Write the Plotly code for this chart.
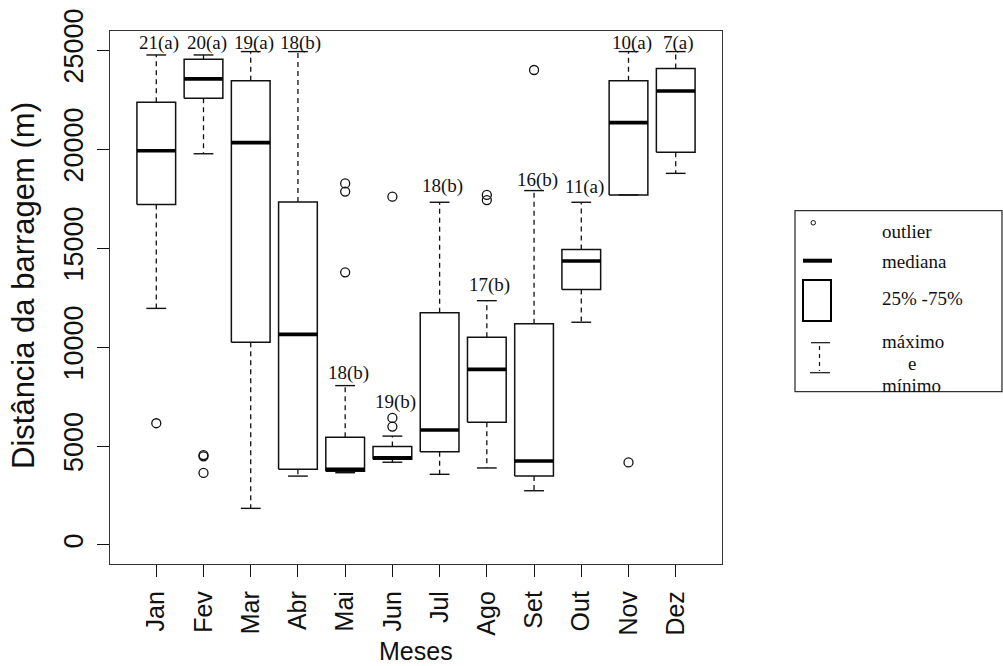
import plotly.graph_objects as go

# ---------------- data ----------------
months = ["Jan", "Fev", "Mar", "Abr", "Mai", "Jun", "Jul", "Ago", "Set", "Out", "Nov", "Dez"]
upper = [24750, 24750, 24920, 24920, 8050, 5500, 17310, 12340, 17900, 17310, 24920, 24920]
q3 = [22360, 24530, 23450, 17320, 5440, 4970, 11730, 10490, 11180, 14930, 23450, 24070]
median = [19910, 23540, 20320, 10640, 3820, 4400, 5810, 8870, 4240, 14340, 21330, 22930]
q1 = [17200, 22560, 10240, 3820, 3720, 4330, 4710, 6200, 3480, 12910, 17680, 19830]
lower = [11950, 19760, 1850, 3480, 3650, 4180, 3570, 3890, 2740, 11250, 17680, 18770]
outliers = [
    [6150],
    [4480, 4540, 3640],
    [],
    [],
    [18260, 17850, 13770],
    [17590, 6420, 5980],
    [],
    [17680, 17420],
    [23990],
    [],
    [4170],
    [],
]
group_labels = ["21(a)", "20(a)", "19(a)", "18(b)", "18(b)", "19(b)",
                "18(b)", "17(b)", "16(b)", "11(a)", "10(a)", "7(a)"]
label_y = [25350, 25350, 25350, 25350, 8700, 7200, 18130, 13130, 18460, 18060, 25350, 25350]

y_ticks = [0, 5000, 10000, 15000, 20000, 25000]

# ---------------- figure geometry ----------------
W, H = 1003, 666
def px(x):
    return x / W
def py(y):
    return 1 - y / H

BOX_HALF = 0.41
CAP_HALF = 0.21
SANS = "Liberation Sans, Arial, sans-serif"
SERIF = "Liberation Serif, Times New Roman, serif"
INK = "#111111"

fig = go.Figure()

box_x, box_y = [], []
med_x, med_y = [], []
wh_x, wh_y = [], []
cap_x, cap_y = [], []
out_x, out_y = [], []
for i in range(len(months)):
    box_x += [i - BOX_HALF, i + BOX_HALF, i + BOX_HALF, i - BOX_HALF, i - BOX_HALF, None]
    box_y += [q1[i], q1[i], q3[i], q3[i], q1[i], None]
    med_x += [i - BOX_HALF, i + BOX_HALF, None]
    med_y += [median[i], median[i], None]
    wh_x += [i, i, None, i, i, None]
    wh_y += [q3[i], upper[i], None, q1[i], lower[i], None]
    cap_x += [i - CAP_HALF, i + CAP_HALF, None, i - CAP_HALF, i + CAP_HALF, None]
    cap_y += [upper[i], upper[i], None, lower[i], lower[i], None]
    for v in outliers[i]:
        out_x.append(i)
        out_y.append(v)

fig.add_trace(go.Scatter(x=wh_x, y=wh_y, mode="lines",
                         line=dict(color=INK, width=1.3, dash="5px,4px"),
                         hoverinfo="skip", showlegend=False))
fig.add_trace(go.Scatter(x=cap_x, y=cap_y, mode="lines",
                         line=dict(color=INK, width=1.4),
                         hoverinfo="skip", showlegend=False))
fig.add_trace(go.Scatter(x=box_x, y=box_y, mode="lines", fill="none",
                         line=dict(color=INK, width=1.5),
                         hoverinfo="skip", showlegend=False))
fig.add_trace(go.Scatter(x=med_x, y=med_y, mode="lines",
                         line=dict(color="#000000", width=3.6),
                         hoverinfo="skip", showlegend=False))
fig.add_trace(go.Scatter(x=out_x, y=out_y, mode="markers",
                         marker=dict(symbol="circle-open", size=9,
                                     color=INK, line=dict(width=1.3)),
                         hoverinfo="skip", showlegend=False))

annotations = []
for i, (lab, ly) in enumerate(zip(group_labels, label_y)):
    annotations.append(dict(x=i, y=ly, xref="x", yref="y", text=lab,
                            showarrow=False, xshift=3,
                            font=dict(family=SERIF, size=19, color=INK),
                            xanchor="center", yanchor="middle"))

# axis titles
annotations.append(dict(x=px(416), y=py(651), xref="paper", yref="paper",
                        text="Meses", showarrow=False,
                        font=dict(family=SANS, size=25, color=INK),
                        xanchor="center", yanchor="middle"))
annotations.append(dict(x=px(23), y=py(286), xref="paper", yref="paper",
                        text="Distância da barragem (m)", showarrow=False, textangle=-90,
                        font=dict(family=SANS, size=31, color=INK),
                        xanchor="center", yanchor="middle"))

# ---------------- key box (drawn legend) ----------------
shapes = [
    dict(type="rect", xref="paper", yref="paper",
         x0=px(795), x1=px(1002), y0=py(391.7), y1=py(210.7),
         line=dict(color="#333333", width=1.3), fillcolor="rgba(0,0,0,0)"),
    dict(type="circle", xref="paper", yref="paper",
         x0=px(811), x1=px(815.5), y0=py(225), y1=py(220.5),
         line=dict(color=INK, width=1)),
    dict(type="line", xref="paper", yref="paper",
         x0=px(803), x1=px(832), y0=py(260.7), y1=py(260.7),
         line=dict(color="#000000", width=4)),
    dict(type="rect", xref="paper", yref="paper",
         x0=px(803), x1=px(831), y0=py(321), y1=py(280),
         line=dict(color="#000000", width=2)),
    dict(type="line", xref="paper", yref="paper",
         x0=px(811), x1=px(830), y0=py(342.7), y1=py(342.7),
         line=dict(color=INK, width=1.2)),
    dict(type="line", xref="paper", yref="paper",
         x0=px(819.5), x1=px(819.5), y0=py(346), y1=py(371),
         line=dict(color=INK, width=1.2, dash="4px,4px")),
    dict(type="line", xref="paper", yref="paper",
         x0=px(810), x1=px(830), y0=py(372.7), y1=py(372.7),
         line=dict(color=INK, width=1.2)),
]
key_texts = [("outlier", 880, 231, "left"), ("mediana", 880, 261, "left"),
             ("25% -75%", 880, 298.5, "left"), ("máximo", 880, 341.5, "left"),
             ("e", 912, 363.5, "center"), ("mínimo", 880, 385, "left")]
for t, x, y, anc in key_texts:
    annotations.append(dict(x=px(x), y=py(y), xref="paper", yref="paper", text=t,
                            showarrow=False, xanchor=anc, yanchor="middle",
                            font=dict(family=SERIF, size=19, color=INK)))

fig.update_layout(
    template="none",
    width=W, height=H,
    margin=dict(l=0, r=0, t=0, b=0, pad=0, autoexpand=False),
    paper_bgcolor="white", plot_bgcolor="white",
    showlegend=False,
    annotations=annotations,
    shapes=shapes,
    xaxis=dict(domain=[px(110), px(722)], range=[-0.98, 11.98], automargin=False,
               tickmode="array", tickvals=list(range(len(months))), ticktext=months,
               tickangle=-90, ticks="outside", ticklen=12, tickwidth=1.3, tickcolor=INK,
               ticklabelstandoff=4,
               showline=True, mirror=True, linecolor="#333333", linewidth=1.3,
               showgrid=False, zeroline=False,
               tickfont=dict(family=SANS, size=25, color=INK)),
    yaxis=dict(domain=[py(564), py(31)], range=[-960, 25960], automargin=False,
               tickmode="array", tickvals=y_ticks, ticktext=[str(v) for v in y_ticks],
               tickangle=-90, ticks="outside", ticklen=12, tickwidth=1.3, tickcolor=INK,
               ticklabelstandoff=3,
               showline=True, mirror=True, linecolor="#333333", linewidth=1.3,
               showgrid=False, zeroline=False,
               tickfont=dict(family=SANS, size=27, color=INK)),
)

fig.write_html("out.html")
